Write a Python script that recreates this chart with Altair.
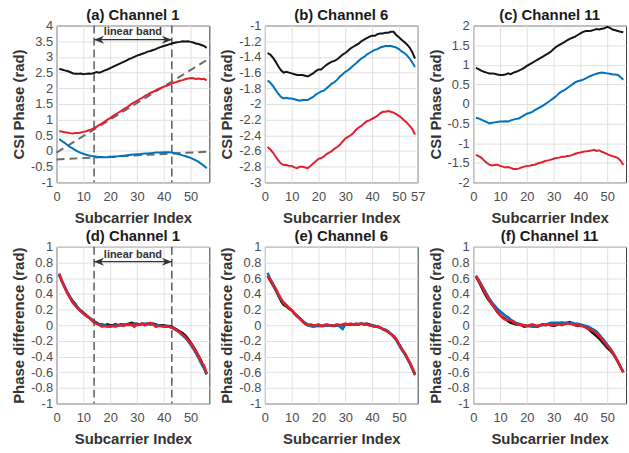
import altair as alt
import pandas as pd

subcarrier = list(range(1, 57))

# ---- (a) Channel 1, CSI phase ----
a_black = [2.62, 2.60, 2.57, 2.55, 2.52, 2.48, 2.46, 2.46, 2.47, 2.45, 2.46, 2.47, 2.46, 2.49, 2.52, 2.50,
           2.53, 2.57, 2.60, 2.64, 2.68, 2.72, 2.76, 2.80, 2.84, 2.88, 2.93, 2.96, 3.00, 3.04, 3.07, 3.10,
           3.13, 3.17, 3.19, 3.22, 3.25, 3.29, 3.32, 3.35, 3.37, 3.40, 3.43, 3.45, 3.47, 3.48, 3.50, 3.49,
           3.50, 3.48, 3.46, 3.43, 3.41, 3.38, 3.35, 3.29]
a_blue = [0.38, 0.32, 0.26, 0.19, 0.13, 0.08, 0.03, -0.02, -0.06, -0.09, -0.12, -0.14, -0.16, -0.17, -0.18, -0.19,
          -0.20, -0.20, -0.20, -0.19, -0.19, -0.18, -0.17, -0.16, -0.15, -0.14, -0.13, -0.12, -0.11, -0.10, -0.10, -0.09,
          -0.08, -0.08, -0.07, -0.06, -0.05, -0.05, -0.05, -0.04, -0.04, -0.04, -0.05, -0.07, -0.09, -0.11, -0.14, -0.16,
          -0.19, -0.22, -0.26, -0.30, -0.35, -0.41, -0.47, -0.55]
a_red = [0.63, 0.62, 0.60, 0.59, 0.57, 0.56, 0.57, 0.57, 0.59, 0.61, 0.63, 0.66, 0.69, 0.73, 0.78, 0.83,
         0.88, 0.94, 1.00, 1.05, 1.11, 1.17, 1.22, 1.27, 1.33, 1.38, 1.44, 1.50, 1.55, 1.60, 1.65, 1.70,
         1.76, 1.80, 1.85, 1.89, 1.93, 1.98, 2.01, 2.05, 2.08, 2.11, 2.15, 2.18, 2.21, 2.24, 2.26, 2.29,
         2.31, 2.33, 2.32, 2.30, 2.31, 2.29, 2.30, 2.25]

# ---- (b) Channel 6, CSI phase ----
b_black = [-1.35, -1.37, -1.41, -1.46, -1.52, -1.57, -1.60, -1.59, -1.60, -1.61, -1.62, -1.63, -1.63, -1.63, -1.64, -1.65,
           -1.63, -1.61, -1.58, -1.56, -1.56, -1.53, -1.50, -1.48, -1.46, -1.45, -1.43, -1.40, -1.37, -1.35, -1.32, -1.29,
           -1.27, -1.25, -1.23, -1.20, -1.18, -1.16, -1.14, -1.13, -1.13, -1.11, -1.10, -1.10, -1.09, -1.09, -1.08, -1.08,
           -1.12, -1.15, -1.18, -1.21, -1.24, -1.28, -1.34, -1.42]
b_blue = [-1.70, -1.73, -1.77, -1.82, -1.87, -1.91, -1.93, -1.92, -1.93, -1.93, -1.94, -1.95, -1.96, -1.95, -1.95, -1.95,
          -1.93, -1.91, -1.88, -1.86, -1.84, -1.83, -1.80, -1.77, -1.74, -1.72, -1.69, -1.65, -1.62, -1.59, -1.57, -1.54,
          -1.51, -1.48, -1.45, -1.42, -1.40, -1.37, -1.35, -1.33, -1.31, -1.30, -1.28, -1.27, -1.26, -1.26, -1.26, -1.27,
          -1.28, -1.30, -1.33, -1.35, -1.38, -1.42, -1.47, -1.53]
b_red = [-2.55, -2.58, -2.62, -2.67, -2.72, -2.76, -2.78, -2.78, -2.79, -2.79, -2.81, -2.82, -2.80, -2.80, -2.81, -2.82,
         -2.79, -2.76, -2.73, -2.70, -2.69, -2.67, -2.64, -2.62, -2.60, -2.57, -2.55, -2.52, -2.48, -2.44, -2.42, -2.40,
         -2.37, -2.33, -2.30, -2.28, -2.25, -2.22, -2.21, -2.19, -2.17, -2.15, -2.12, -2.10, -2.10, -2.09, -2.10, -2.11,
         -2.13, -2.15, -2.18, -2.21, -2.24, -2.28, -2.32, -2.39]

# ---- (c) Channel 11, CSI phase ----
c_black = [0.92, 0.89, 0.85, 0.82, 0.80, 0.78, 0.78, 0.77, 0.75, 0.74, 0.74, 0.75, 0.78, 0.76, 0.80, 0.82,
           0.85, 0.88, 0.92, 0.97, 1.01, 1.05, 1.09, 1.13, 1.17, 1.21, 1.25, 1.29, 1.34, 1.40, 1.46, 1.50,
           1.54, 1.58, 1.62, 1.66, 1.69, 1.72, 1.76, 1.80, 1.84, 1.86, 1.86, 1.87, 1.89, 1.91, 1.90, 1.92,
           1.93, 1.97, 1.94, 1.90, 1.88, 1.86, 1.84, 1.83]
c_blue = [-0.35, -0.37, -0.40, -0.43, -0.46, -0.50, -0.48, -0.47, -0.46, -0.45, -0.45, -0.44, -0.45, -0.42, -0.40, -0.38,
          -0.37, -0.33, -0.29, -0.25, -0.23, -0.20, -0.16, -0.12, -0.08, -0.04, 0.00, 0.05, 0.10, 0.15, 0.20, 0.27,
          0.32, 0.35, 0.40, 0.45, 0.50, 0.55, 0.58, 0.60, 0.62, 0.65, 0.69, 0.72, 0.75, 0.77, 0.79, 0.80,
          0.79, 0.78, 0.77, 0.75, 0.75, 0.74, 0.68, 0.62]
c_red = [-1.30, -1.33, -1.37, -1.44, -1.50, -1.55, -1.57, -1.56, -1.55, -1.58, -1.60, -1.62, -1.61, -1.63, -1.66, -1.66,
         -1.65, -1.62, -1.60, -1.58, -1.58, -1.56, -1.55, -1.52, -1.50, -1.48, -1.45, -1.44, -1.42, -1.40, -1.38, -1.37,
         -1.35, -1.35, -1.33, -1.32, -1.30, -1.27, -1.25, -1.24, -1.22, -1.21, -1.20, -1.19, -1.17, -1.20, -1.18, -1.22,
         -1.25, -1.28, -1.31, -1.33, -1.35, -1.38, -1.45, -1.56]

# ---- (d) Channel 1, phase difference ----
d_black = [0.64, 0.56, 0.49, 0.42, 0.36, 0.31, 0.27, 0.22, 0.19, 0.16, 0.13, 0.10, 0.07, 0.05, 0.03, 0.01,
           0.01, 0.00, 0.01, 0.00, 0.00, 0.01, 0.00, 0.01, 0.00, 0.01, 0.02, 0.03, 0.02, 0.02, 0.01, 0.02,
           0.01, 0.02, 0.01, 0.02, 0.01, 0.00, 0.00, 0.00, -0.01, -0.01, -0.02, -0.04, -0.06, -0.08, -0.10, -0.13,
           -0.17, -0.22, -0.27, -0.33, -0.39, -0.46, -0.54, -0.62]
d_blue = [0.66, 0.57, 0.49, 0.42, 0.36, 0.30, 0.26, 0.22, 0.18, 0.15, 0.12, 0.10, 0.08, 0.04, 0.02, 0.01,
          0.00, 0.00, -0.01, -0.02, -0.01, 0.00, -0.01, 0.00, 0.01, 0.00, 0.01, 0.00, 0.01, 0.00, 0.01, 0.01,
          0.02, 0.01, 0.02, 0.01, 0.00, 0.00, -0.01, -0.01, -0.01, -0.02, -0.03, -0.05, -0.07, -0.10, -0.13, -0.16,
          -0.20, -0.25, -0.30, -0.36, -0.42, -0.49, -0.55, -0.63]
d_red = [0.65, 0.56, 0.48, 0.41, 0.35, 0.29, 0.25, 0.21, 0.18, 0.15, 0.12, 0.10, 0.07, 0.03, 0.02, 0.00,
         -0.02, -0.01, -0.02, -0.01, -0.01, -0.02, 0.00, 0.00, -0.01, 0.01, 0.00, 0.01, -0.02, 0.01, 0.01, 0.02,
         0.00, 0.02, 0.03, 0.01, -0.02, -0.01, -0.01, -0.02, -0.02, -0.02, -0.03, -0.05, -0.07, -0.09, -0.12, -0.15,
         -0.19, -0.23, -0.28, -0.34, -0.40, -0.48, -0.51, -0.62]

# ---- (e) Channel 6, phase difference ----
e_black = [0.63, 0.57, 0.51, 0.45, 0.38, 0.31, 0.26, 0.24, 0.21, 0.19, 0.15, 0.12, 0.09, 0.05, 0.02, 0.00,
           0.00, -0.01, -0.01, -0.01, -0.01, -0.01, 0.00, 0.00, 0.00, -0.01, 0.00, 0.00, 0.00, 0.01, 0.01, 0.01,
           0.01, 0.01, 0.01, 0.02, 0.01, 0.02, 0.01, 0.00, -0.01, -0.02, -0.03, -0.05, -0.06, -0.08, -0.11, -0.14,
           -0.18, -0.24, -0.30, -0.35, -0.41, -0.48, -0.55, -0.62]
e_blue = [0.67, 0.59, 0.53, 0.46, 0.39, 0.33, 0.29, 0.26, 0.22, 0.19, 0.15, 0.12, 0.09, 0.06, 0.03, 0.01,
          -0.01, -0.02, -0.01, 0.00, -0.01, 0.00, -0.01, 0.00, 0.00, 0.00, 0.00, -0.02, -0.05, 0.01, 0.01, 0.01,
          0.01, 0.01, 0.02, 0.02, 0.01, 0.01, 0.00, 0.00, -0.02, -0.02, -0.03, -0.05, -0.06, -0.08, -0.11, -0.15,
          -0.19, -0.25, -0.31, -0.36, -0.42, -0.48, -0.56, -0.64]
e_red = [0.63, 0.58, 0.52, 0.47, 0.40, 0.34, 0.28, 0.25, 0.22, 0.19, 0.15, 0.11, 0.08, 0.05, 0.02, 0.00,
         0.01, 0.00, 0.00, 0.01, -0.01, 0.00, 0.01, 0.00, -0.01, 0.00, 0.01, 0.00, 0.01, 0.02, 0.01, 0.02,
         0.01, 0.02, 0.01, 0.02, 0.02, 0.01, 0.00, -0.01, -0.02, -0.01, -0.03, -0.05, -0.07, -0.09, -0.11, -0.14,
         -0.18, -0.24, -0.30, -0.35, -0.41, -0.47, -0.55, -0.63]

# ---- (f) Channel 11, phase difference ----
f_black = [0.62, 0.56, 0.49, 0.42, 0.36, 0.31, 0.27, 0.22, 0.17, 0.13, 0.10, 0.08, 0.05, 0.03, 0.02, 0.01,
           0.01, 0.00, -0.02, -0.01, -0.01, 0.00, -0.01, -0.02, 0.00, 0.01, 0.00, 0.01, 0.00, -0.01, 0.00, 0.02,
           0.03, 0.02, 0.03, 0.04, 0.02, 0.00, -0.01, 0.00, -0.01, -0.03, -0.05, -0.08, -0.11, -0.14, -0.17, -0.21,
           -0.25, -0.29, -0.32, -0.36, -0.41, -0.47, -0.54, -0.60]
f_blue = [0.63, 0.58, 0.52, 0.46, 0.40, 0.34, 0.29, 0.25, 0.21, 0.18, 0.15, 0.12, 0.10, 0.07, 0.05, 0.03,
          0.02, 0.01, 0.00, -0.01, -0.01, -0.02, -0.02, -0.01, 0.00, 0.00, 0.01, 0.02, 0.03, 0.03, 0.03, 0.03,
          0.03, 0.03, 0.03, 0.02, 0.03, 0.02, 0.02, 0.01, 0.00, -0.01, -0.02, -0.04, -0.06, -0.08, -0.12, -0.16,
          -0.20, -0.25, -0.29, -0.34, -0.40, -0.47, -0.53, -0.60]
f_red = [0.63, 0.57, 0.51, 0.44, 0.38, 0.32, 0.26, 0.22, 0.17, 0.13, 0.09, 0.07, 0.07, 0.06, 0.04, 0.02,
         0.01, 0.00, 0.00, -0.01, 0.00, 0.01, 0.00, -0.01, 0.00, 0.01, 0.00, 0.01, 0.00, 0.00, 0.01, 0.01,
         0.00, 0.01, 0.02, 0.02, 0.01, 0.00, 0.00, -0.01, -0.01, -0.03, -0.05, -0.06, -0.08, -0.10, -0.14, -0.18,
         -0.22, -0.26, -0.30, -0.35, -0.40, -0.46, -0.54, -0.60]

# ---- annotations of panel (a) and (d) ----
band_edges = [14, 43]
fit_x = [0, 57]
fit_red_y = [-0.05, 2.95]
fit_blue_y = [-0.27, -0.02]
arrow_y_top = 3.55
label_y_top = 3.78
arrow_y_bottom = 0.81
label_y_bottom = 0.89

# ---- tick values ----
xticks_std = [0, 10, 20, 30, 40, 50]
xticks_b = [0, 10, 20, 30, 40, 50, 57]
yticks_a = [-1, -0.5, 0, 0.5, 1, 1.5, 2, 2.5, 3, 3.5, 4]
yticks_b = [-3, -2.8, -2.6, -2.4, -2.2, -2, -1.8, -1.6, -1.4, -1.2, -1]
yticks_c = [-2, -1.5, -1, -0.5, 0, 0.5, 1, 1.5, 2]
yticks_diff = [-1, -0.8, -0.6, -0.4, -0.2, 0, 0.2, 0.4, 0.6, 0.8, 1]

BLACK = "#141414"
BLUE = "#0072BD"
RED = "#E61E2A"
DASH = "#5a5a5a"
FONT = "Liberation Sans"

W, H = 154, 158


def x_enc(values):
    return alt.X("sub:Q", scale=alt.Scale(domain=[0, 57], nice=False, zero=False),
                 axis=alt.Axis(values=values, title="Subcarrier Index", grid=True, gridColor="#e0e0e0",
                               domain=False, ticks=False, labelFontSize=13, labelColor="#4d4d4d",
                               labelPadding=8, labelFlush=False, labelOverlap=False,
                               labelExpr="'' + datum.value",
                               titleFontSize=15, titleFontWeight="bold", titleColor="#333333",
                               titlePadding=7))


def y_enc(values, title, domain):
    return alt.Y("val:Q", scale=alt.Scale(domain=domain, nice=False, zero=False),
                 axis=alt.Axis(values=values, title=title, grid=True, gridColor="#e0e0e0",
                               domain=False, ticks=False, labelFontSize=13, labelColor="#4d4d4d",
                               labelPadding=4, labelFlush=False, labelOverlap=False,
                               labelExpr="'' + datum.value",
                               titleFontSize=15, titleFontWeight="bold", titleColor="#333333",
                               titlePadding=4))


def panel(title, black, blue, red, ydomain, yticks, ytitle, xticks, width_line, annot=None):
    xe = x_enc(xticks)
    ye = y_enc(yticks, ytitle, ydomain)
    layers = []
    if annot is not None:
        arrow_y, label_y, fits = annot
        band_df = pd.DataFrame({"sub": band_edges})
        layers.append(alt.Chart(band_df).mark_rule(color=DASH, strokeWidth=1.5, strokeDash=[8, 4]).encode(x=xe))
        if fits:
            fit_df = pd.DataFrame({"sub": fit_x + fit_x, "val": fit_red_y + fit_blue_y,
                                   "fit": ["r", "r", "b", "b"]})
            layers.append(alt.Chart(fit_df).mark_line(color="#6a6a6a", strokeWidth=2, strokeDash=[8, 5]).encode(
                x=xe, y=ye, detail="fit:N"))
    for ser, col in [(black, BLACK), (blue, BLUE), (red, RED)]:
        df = pd.DataFrame({"sub": subcarrier, "val": ser})
        layers.append(alt.Chart(df).mark_line(color=col, strokeWidth=width_line).encode(x=xe, y=ye))
    if annot is not None:
        arrow_df = pd.DataFrame({"sub": [band_edges[0]], "sub2": [band_edges[1]], "val": [arrow_y]})
        layers.append(alt.Chart(arrow_df).mark_rule(color="#333333", strokeWidth=1.3).encode(
            x=xe, x2="sub2:Q", y=ye))
        left_df = pd.DataFrame({"sub": [band_edges[0]], "val": [arrow_y]})
        right_df = pd.DataFrame({"sub": [band_edges[1]], "val": [arrow_y]})
        layers.append(alt.Chart(left_df).mark_point(shape="M0,0L2,-0.8L1.4,0L2,0.8Z", filled=True, size=100,
                                                    color="#333333", opacity=1).encode(x=xe, y=ye))
        layers.append(alt.Chart(right_df).mark_point(shape="M0,0L-2,-0.8L-1.4,0L-2,0.8Z", filled=True, size=100,
                                                     color="#333333", opacity=1).encode(x=xe, y=ye))
        text_df = pd.DataFrame({"sub": [(band_edges[0] + band_edges[1]) / 2], "val": [label_y],
                                "label": ["linear band"]})
        layers.append(alt.Chart(text_df).mark_text(font=FONT, fontSize=11, fontWeight="bold", color="#333333",
                                                   baseline="middle").encode(x=xe, y=ye, text="label:N"))
    return alt.layer(*layers).properties(
        width=W, height=H,
        title=alt.TitleParams(title, fontSize=15, fontWeight="bold", color="#1a1a1a", offset=-3,
                              frame="group", anchor="middle"))


pa = panel("(a) Channel 1", a_black, a_blue, a_red, [-1, 4], yticks_a, "CSI Phase (rad)", xticks_std, 2,
           (arrow_y_top, label_y_top, True))
pb = panel("(b) Channel 6", b_black, b_blue, b_red, [-3, -1], yticks_b, "CSI Phase (rad)", xticks_b, 2)
pc = panel("(c) Channel 11", c_black, c_blue, c_red, [-2, 2], yticks_c, "CSI Phase (rad)", xticks_std, 2)
pd_ = panel("(d) Channel 1", d_black, d_blue, d_red, [-1, 1], yticks_diff, "Phase difference (rad)", xticks_std,
            2.5, (arrow_y_bottom, label_y_bottom, False))
pe = panel("(e) Channel 6", e_black, e_blue, e_red, [-1, 1], yticks_diff, "Phase difference (rad)", xticks_std, 2.5)
pf = panel("(f) Channel 11", f_black, f_blue, f_red, [-1, 1], yticks_diff, "Phase difference (rad)", xticks_std, 2.5)

chart = alt.concat(pa, pb, pc, pd_, pe, pf, columns=3, spacing={"row": 65, "column": 56},
                   bounds="flush").properties(
    padding={"left": 11, "top": 5, "right": 0, "bottom": 0}
).configure(font=FONT, background="white").configure_view(stroke="#3a3a3a", strokeWidth=1)

chart.save("out.html", embed_options={"renderer": "svg", "actions": False})
